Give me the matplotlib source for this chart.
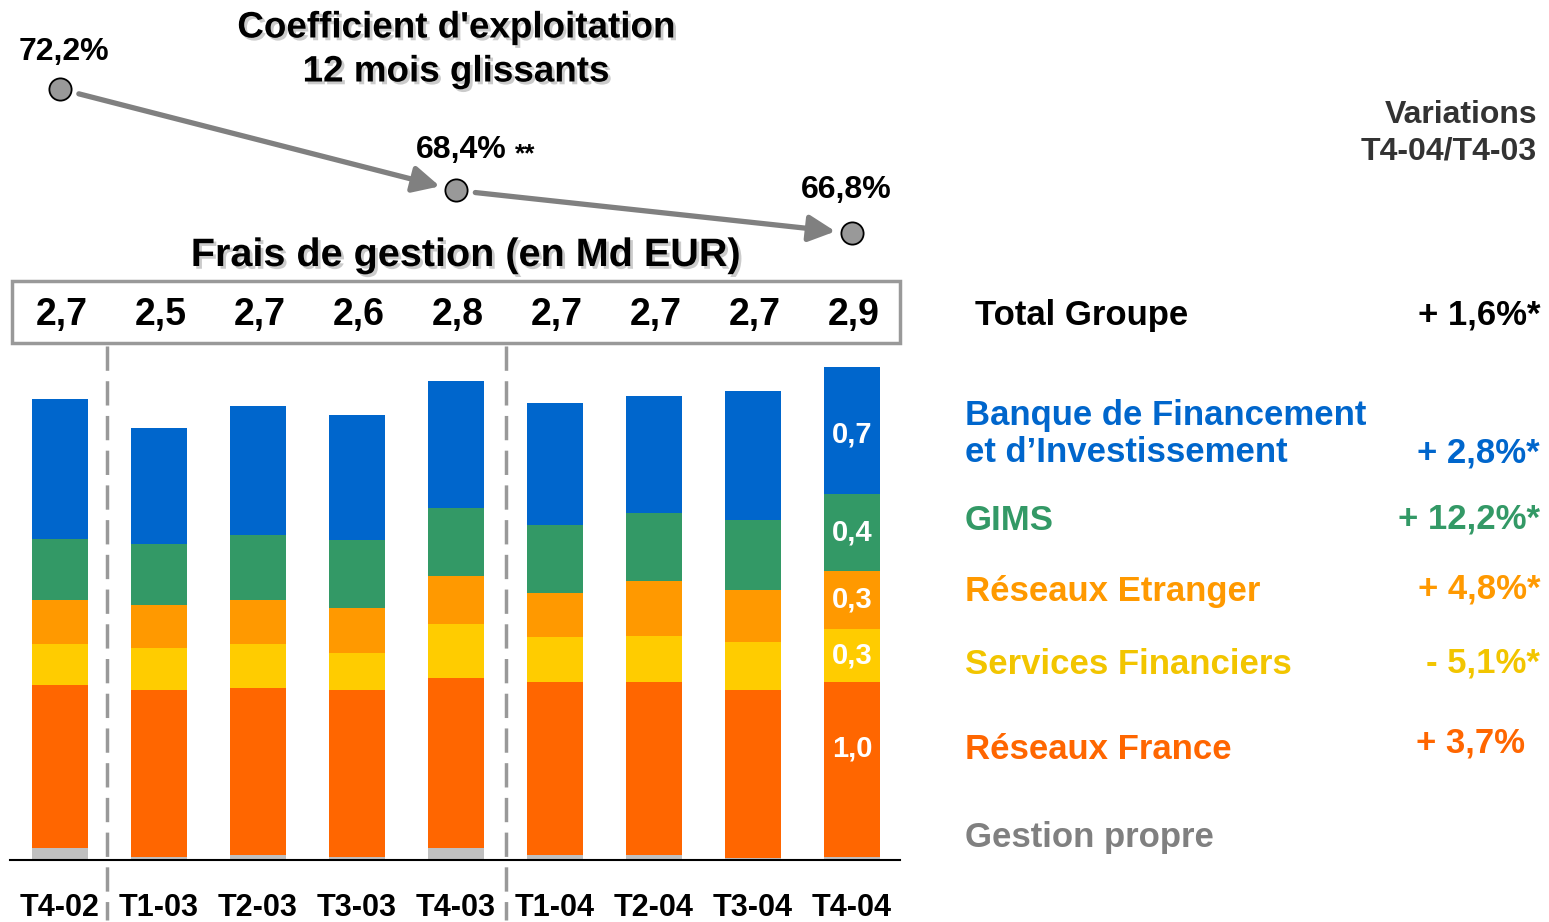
import numpy as np
import matplotlib
matplotlib.use('Agg')
import matplotlib.pyplot as plt
import matplotlib.patheffects as pe
from matplotlib.patches import Rectangle
from matplotlib.lines import Line2D

plt.rcParams['font.family'] = ['Liberation Sans', 'DejaVu Sans']

# data (Md EUR)
quarters = ['T4-02', 'T1-03', 'T2-03', 'T3-03', 'T4-03', 'T1-04', 'T2-04', 'T3-04', 'T4-04']
totals = ['2,7', '2,5', '2,7', '2,6', '2,8', '2,7', '2,7', '2,7', '2,9']
gestion_propre = [0.07, 0.02, 0.03, 0.02, 0.07, 0.03, 0.03, 0.01, 0.02]
reseaux_france = [0.96, 0.98, 0.98, 0.98, 1.00, 1.02, 1.02, 0.99, 1.03]
services_fin = [0.24, 0.25, 0.26, 0.22, 0.32, 0.26, 0.27, 0.28, 0.31]
reseaux_etranger = [0.26, 0.25, 0.26, 0.26, 0.28, 0.26, 0.32, 0.31, 0.34]
gims = [0.36, 0.36, 0.38, 0.40, 0.40, 0.40, 0.40, 0.41, 0.45]
bfi = [0.82, 0.68, 0.76, 0.74, 0.75, 0.72, 0.69, 0.76, 0.75]
last_labels = ['1,0', '0,3', '0,3', '0,4', '0,7']  # France, SF, Etranger, GIMS, BFI

coef_idx = [0, 4, 8]
coef_vals = [72.2, 68.4, 66.8]
coef_labels = ['72,2%', '68,4%', '66,8%']

segments = ['Réseaux France', 'Services Financiers', 'Réseaux Etranger', 'GIMS',
            "Banque de Financement\net d\u2019Investissement"]
variations = ['+ 3,7%', '- 5,1%*', '+ 4,8%*', '+ 12,2%*', '+ 2,8%*']

c_gray = '#C0C0C0'
c_fr = '#FF6600'
c_sf = '#FFCC00'
c_et = '#FF9900'
c_gims = '#339966'
c_bfi = '#0066CC'

W, H = 1549, 922
fig = plt.figure(figsize=(W / 100, H / 100), dpi=100)


def fx(px):
    return px / W


def fy(py):
    return 1 - py / H


shadow = [pe.SimplePatchShadow(offset=(2, -2), shadow_rgbFace='#999999', alpha=0.5), pe.Normal()]

# bars axes: x from 10px to 900px, baseline at 860px, 170px per Md EUR
ax = fig.add_axes([fx(10), fy(860), fx(890), (860 - 350) / H])
x = np.arange(len(quarters))
bottom = np.zeros(len(quarters))
for vals, col in [(gestion_propre, c_gray), (reseaux_france, c_fr), (services_fin, c_sf),
                  (reseaux_etranger, c_et), (gims, c_gims), (bfi, c_bfi)]:
    ax.bar(x, vals, width=0.56, bottom=bottom, color=col, edgecolor='none')
    bottom += np.array(vals)

# labels inside the last bar (France label sits a bit above centre)
b = gestion_propre[-1]
lift = [0.12, 0, 0, 0, -0.02]
for vals, lab, dl in zip([reseaux_france, services_fin, reseaux_etranger, gims, bfi],
                         last_labels, lift):
    ax.text(x[-1], b + vals[-1] / 2 + dl, lab, ha='center', va='center', color='white',
            fontsize=21, fontweight='bold')
    b += vals[-1]

ax.set_xlim((10 - 60) / 99, (900 - 60) / 99)
ax.set_ylim(0, 3.0)
for s in ['top', 'right', 'left']:
    ax.spines[s].set_visible(False)
ax.spines['bottom'].set_linewidth(1.5)
ax.set_yticks([])
ax.set_xticks(x)
ax.set_xticklabels(quarters, fontsize=22, fontweight='bold')
ax.tick_params(axis='x', length=0, pad=24)

# coefficient d'exploitation axes (top part)
ax2 = fig.add_axes([fx(10), fy(280), fx(890), 280 / H])
ax2.set_xlim(ax.get_xlim())
ax2.set_ylim(72.2 - (280 - 89) / 26.7, 72.2 + 89 / 26.7)
ax2.axis('off')
for i in range(len(coef_idx) - 1):
    ax2.annotate('', xy=(coef_idx[i + 1], coef_vals[i + 1]), xytext=(coef_idx[i], coef_vals[i]),
                 arrowprops=dict(arrowstyle='-|>', color='#808080', lw=3.8,
                                 mutation_scale=40, shrinkA=14, shrinkB=12))
ax2.plot(coef_idx, coef_vals, 'o', ms=16, mfc='#999999', mec='black', mew=1.3, zorder=5)
offsets = [(4, 37), (5, 40), (-6, 43)]
for xi, v, lab, off in zip(coef_idx, coef_vals, coef_labels, offsets):
    ax2.annotate(lab, (xi, v), xytext=(off[0], off[1]), textcoords='offset pixels',
                 ha='center', va='center', fontsize=23, fontweight='bold')
ax2.annotate('**', (coef_idx[1], coef_vals[1]), xytext=(69, 36), textcoords='offset pixels',
             ha='center', va='center', fontsize=19, fontweight='bold')

# titles
fig.text(fx(456), fy(28), "Coefficient d'exploitation", ha='center', va='center',
         fontsize=26.5, fontweight='bold', path_effects=shadow)
fig.text(fx(456), fy(72), '12 mois glissants', ha='center', va='center',
         fontsize=26.5, fontweight='bold', path_effects=shadow)
fig.text(fx(466), fy(255), 'Frais de gestion (en Md EUR)', ha='center', va='center',
         fontsize=28.5, fontweight='bold', path_effects=shadow)

# totals box
fig.patches.append(Rectangle((fx(12), fy(343)), fx(888), 62 / H, transform=fig.transFigure,
                             fill=False, edgecolor='#999999', lw=2.5))
for xi, t in zip(x, totals):
    fig.text(fx(62 + 99 * xi), fy(315), t, ha='center', va='center', fontsize=27,
             fontweight='bold')

# dashed separators
for px in [107, 506]:
    fig.lines.append(Line2D([fx(px), fx(px)], [fy(346), fy(920)], transform=fig.transFigure,
                            color='#999999', lw=2.5, dashes=(7, 3)))

# right-hand legend with variations
fig.text(fx(1537), fy(115), 'Variations', ha='right', va='center', fontsize=23,
         fontweight='bold', color='#333333')
fig.text(fx(1537), fy(152), 'T4-04/T4-03', ha='right', va='center', fontsize=23,
         fontweight='bold', color='#333333')
fig.text(fx(975), fy(315), 'Total Groupe', ha='left', va='center', fontsize=25,
         fontweight='bold', color='black')
fig.text(fx(1540), fy(315), '+ 1,6%*', ha='right', va='center', fontsize=25,
         fontweight='bold', color='black')

text_cols = [c_fr, '#F2C500', c_et, c_gims, c_bfi]
name_y = [[749], [665], [591], [521], [415, 453]]
var_y = [743, 663, 589, 519, 453]
var_x = [1525, 1540, 1540, 1540, 1540]
for name, var, col, nys, vy, vx in zip(segments, variations, text_cols, name_y, var_y, var_x):
    for line, ny in zip(name.split('\n'), nys):
        fig.text(fx(965), fy(ny), line, ha='left', va='center', fontsize=25,
                 fontweight='bold', color=col)
    fig.text(fx(vx), fy(vy), var, ha='right', va='center', fontsize=25, fontweight='bold',
             color=col)
fig.text(fx(965), fy(838), 'Gestion propre', ha='left', va='center', fontsize=25,
         fontweight='bold', color='#808080')

fig.savefig('out.png', dpi=100)
